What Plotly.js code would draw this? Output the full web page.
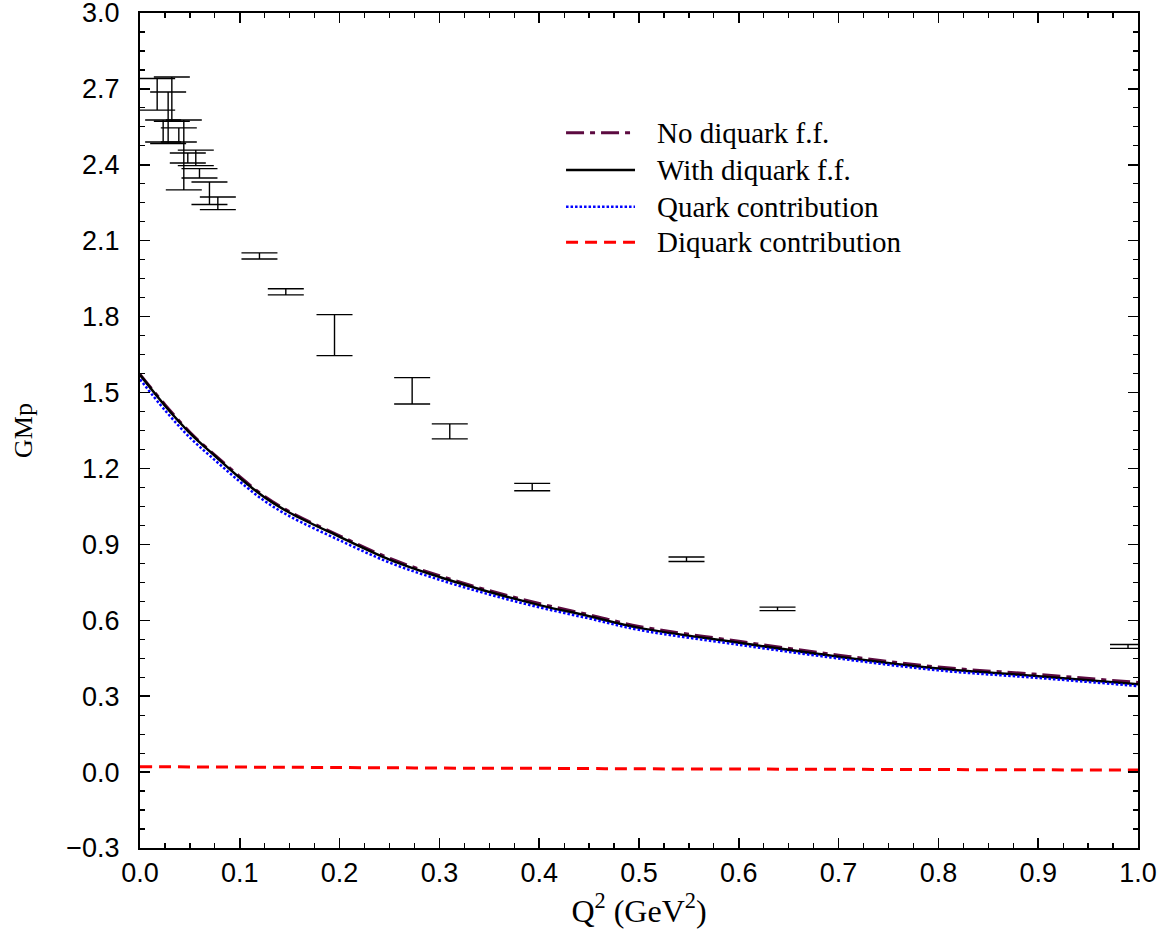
<!DOCTYPE html>
<html>
<head>
<meta charset="utf-8">
<script src="https://cdn.plot.ly/plotly-3.0.1.min.js"></script>
<style>html,body{margin:0;padding:0;background:#fff;}#chart{width:1174px;height:935px;}</style>
</head>
<body>
<div id="chart"></div>
<script>
// Model curves
var q2 = [0, 0.025, 0.05, 0.075, 0.1, 0.125, 0.15, 0.2, 0.25, 0.3, 0.35, 0.4, 0.45, 0.5, 0.6, 0.7, 0.8, 0.9, 1.0];
var noDiquarkFF = [1.572, 1.452, 1.343, 1.253, 1.168, 1.089, 1.029, 0.934, 0.845, 0.776, 0.717, 0.666, 0.622, 0.576, 0.517, 0.462, 0.415, 0.386, 0.354];
var withDiquarkFF = [1.570, 1.448, 1.340, 1.250, 1.163, 1.085, 1.025, 0.930, 0.840, 0.771, 0.712, 0.660, 0.616, 0.570, 0.511, 0.456, 0.409, 0.379, 0.347];
var quarkContrib = [1.552, 1.430, 1.322, 1.233, 1.148, 1.071, 1.011, 0.916, 0.828, 0.760, 0.702, 0.651, 0.607, 0.562, 0.503, 0.449, 0.402, 0.372, 0.340];
var diquarkContrib = [0.021, 0.021, 0.0205, 0.020, 0.020, 0.019, 0.019, 0.018, 0.017, 0.016, 0.015, 0.015, 0.014, 0.013, 0.012, 0.011, 0.010, 0.009, 0.008];

// Experimental data: Q^2 and lower / upper ends of error bars
var expQ2 = [0.0172, 0.0319, 0.0282, 0.0232, 0.0389, 0.0439, 0.0479, 0.0559, 0.0596, 0.0696, 0.0780, 0.1197, 0.1461, 0.1949, 0.2727, 0.3104, 0.3930, 0.5476, 0.6388, 0.9900];
var expLow = [2.616, 2.572, 2.484, 2.490, 2.490, 2.301, 2.407, 2.397, 2.348, 2.243, 2.223, 2.028, 1.886, 1.646, 1.455, 1.317, 1.112, 0.832, 0.638, 0.489];
var expHigh = [2.741, 2.747, 2.688, 2.577, 2.546, 2.577, 2.447, 2.458, 2.385, 2.332, 2.273, 2.052, 1.910, 1.808, 1.559, 1.376, 1.141, 0.850, 0.652, 0.504];

var seriesNames = ['No diquark f.f.', 'With diquark f.f.', 'Quark contribution', 'Diquark contribution'];
var xTickVals = [0, 0.1, 0.2, 0.3, 0.4, 0.5, 0.6, 0.7, 0.8, 0.9, 1.0];
var xTickText = ['0.0', '0.1', '0.2', '0.3', '0.4', '0.5', '0.6', '0.7', '0.8', '0.9', '1.0'];
var yTickVals = [-0.3, 0, 0.3, 0.6, 0.9, 1.2, 1.5, 1.8, 2.1, 2.4, 2.7, 3.0];
var yTickText = ['\u22120.3', '0.0', '0.3', '0.6', '0.9', '1.2', '1.5', '1.8', '2.1', '2.4', '2.7', '3.0'];

var expMid = expLow.map(function (v, i) { return (v + expHigh[i]) / 2; });
var expErr = expLow.map(function (v, i) { return (expHigh[i] - v) / 2; });

var lineStyles = [
  {color: '#5c0a40', width: 3, dash: '18px,6px,5px,6px'},
  {color: '#000000', width: 2.5, dash: 'solid'},
  {color: '#0000ff', width: 2.5, dash: '2.5px,2px'},
  {color: '#ff0000', width: 3, dash: '12px,7px'}
];
var seriesValues = [noDiquarkFF, withDiquarkFF, quarkContrib, diquarkContrib];

var traces = seriesValues.map(function (vals, i) {
  return {x: q2, y: vals, name: seriesNames[i], mode: 'lines', showlegend: false,
    line: {color: lineStyles[i].color, width: lineStyles[i].width, dash: lineStyles[i].dash, shape: 'spline'}};
});
traces.push({x: expQ2, y: expMid, mode: 'markers', showlegend: false, cliponaxis: false, hoverinfo: 'skip',
  marker: {size: 1, color: 'rgba(0,0,0,0)'},
  error_y: {type: 'data', array: expErr, visible: true, color: '#000000', thickness: 1.4, width: 18}});

// Legend drawn as shapes + annotations in paper coordinates
var legendRowY = [0.8566, 0.8120, 0.7680, 0.7254];
var legendLineX0 = 0.4269, legendLineX1 = 0.4960, legendTextX = 0.5160;
var shapes = [], annotations = [];
seriesNames.forEach(function (nm, i) {
  shapes.push({type: 'line', xref: 'paper', yref: 'paper', x0: legendLineX0, x1: legendLineX1,
    y0: legendRowY[i], y1: legendRowY[i], line: {color: lineStyles[i].color, width: lineStyles[i].width, dash: lineStyles[i].dash}});
  annotations.push({xref: 'paper', yref: 'paper', x: legendTextX, y: legendRowY[i], xanchor: 'left', yanchor: 'middle',
    text: nm, showarrow: false, font: {family: 'Liberation Serif, Times New Roman, serif', size: 29, color: '#000'}});
});

var layout = {
  width: 1174, height: 935,
  margin: {l: 140, r: 36, t: 13, b: 87},
  paper_bgcolor: '#ffffff', plot_bgcolor: '#ffffff',
  showlegend: false,
  shapes: shapes,
  annotations: annotations,
  xaxis: {
    range: [0, 1.0], showgrid: false, zeroline: false,
    showline: true, linecolor: '#000', linewidth: 2, mirror: 'ticks',
    ticks: 'inside', ticklen: 10, tickwidth: 1.5, tickcolor: '#000',
    tickvals: xTickVals, ticktext: xTickText, ticklabeloverflow: 'allow',
    tickfont: {family: 'Liberation Sans, Arial, sans-serif', size: 27, color: '#000'},
    minor: {dtick: 0.025, tick0: 0, ticks: 'inside', ticklen: 5, tickwidth: 1.2, tickcolor: '#000'},
    title: {text: 'Q<sup>2</sup> (GeV<sup>2</sup>)', font: {family: 'Liberation Serif, Times New Roman, serif', size: 32, color: '#000'}, standoff: 6}
  },
  yaxis: {
    range: [-0.3, 3.0], showgrid: false, zeroline: false,
    showline: true, linecolor: '#000', linewidth: 2, mirror: 'ticks',
    ticks: 'inside', ticklen: 10, tickwidth: 1.5, tickcolor: '#000',
    tickvals: yTickVals, ticktext: yTickText, ticklabeloverflow: 'allow',
    tickfont: {family: 'Liberation Sans, Arial, sans-serif', size: 27, color: '#000'},
    ticklabelstandoff: 13,
    minor: {dtick: 0.075, tick0: 0, ticks: 'inside', ticklen: 5, tickwidth: 1.2, tickcolor: '#000'},
    title: {text: 'GMp', font: {family: 'Liberation Serif, Times New Roman, serif', size: 26, color: '#000'}, standoff: 26}
  }
};

Plotly.newPlot('chart', traces, layout, {displayModeBar: false, staticPlot: true});
</script>
</body>
</html>
